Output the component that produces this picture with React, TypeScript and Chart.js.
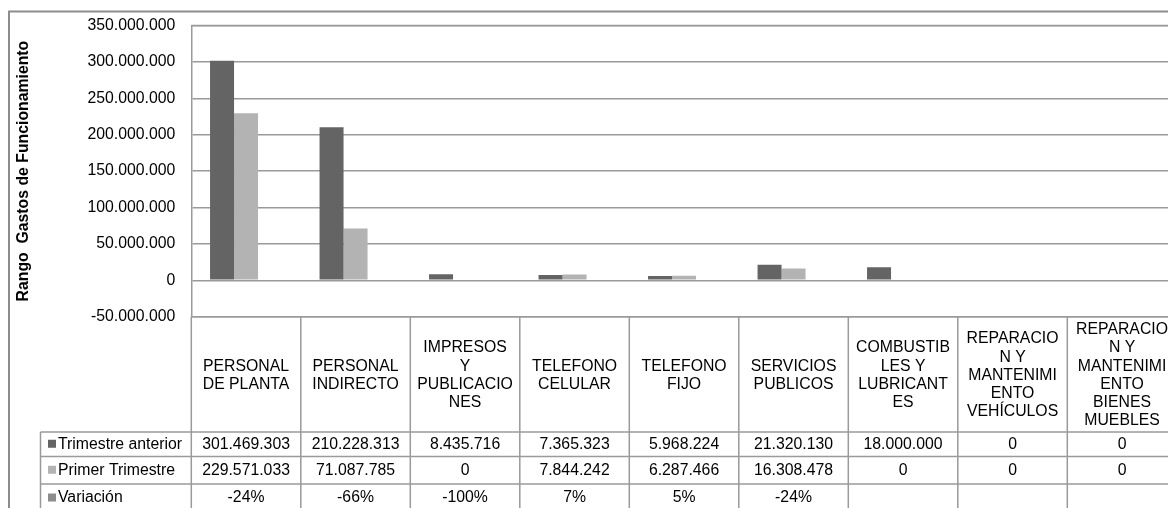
import React, { useEffect, useRef } from "react";
import { Chart, registerables } from "chart.js";

Chart.register(...registerables);

const categories: string[][] = [
  ["PERSONAL", "DE PLANTA"],
  ["PERSONAL", "INDIRECTO"],
  ["IMPRESOS", "Y", "PUBLICACIO", "NES"],
  ["TELEFONO", "CELULAR"],
  ["TELEFONO", "FIJO"],
  ["SERVICIOS", "PUBLICOS"],
  ["COMBUSTIB", "LES Y", "LUBRICANT", "ES"],
  ["REPARACIO", "N Y", "MANTENIMI", "ENTO", "VEHÍCULOS"],
  ["REPARACIO", "N Y", "MANTENIMI", "ENTO", "BIENES", "MUEBLES"],
];

const trimestreAnterior = [301469303, 210228313, 8435716, 7365323, 5968224, 21320130, 18000000, 0, 0];
const primerTrimestre = [229571033, 71087785, 0, 7844242, 6287466, 16308478, 0, 0, 0];
const variacion: (number | null)[] = [-0.24, -0.66, -1, 0.07, 0.05, -0.24, null, null, null];

const seriesLabels = ["Trimestre anterior", "Primer Trimestre", "Variación"];
const yTitle = "Rango  Gastos de Funcionamiento";
const yMin = -50000000;
const yMax = 350000000;
const yStep = 50000000;

const FONT = "'Liberation Sans', Arial, sans-serif";
const FS = 15.8;
const COLORS = ["#646464", "#b3b3b3", "#8c8c8c"];
const LINE = "#9a9a9a";

const CW = 1200;
const CH = 540;

function fmtNum(n: number): string {
  return Math.round(n)
    .toString()
    .replace(/\B(?=(\d{3})+(?!\d))/g, ".");
}
function fmtPct(v: number | null): string {
  if (v === null || v === undefined) return "";
  return Math.round(v * 100) + "%";
}

const tablePlugin = {
  id: "tablePlugin",
  beforeDraw(chart: any) {
    const ctx = chart.ctx;
    ctx.save();
    ctx.fillStyle = "#ffffff";
    ctx.fillRect(0, 0, chart.width, chart.height);
    ctx.strokeStyle = "#8c8c8c";
    ctx.lineWidth = 2;
    ctx.beginPath();
    ctx.moveTo(9, chart.height);
    ctx.lineTo(9, 11.5);
    ctx.lineTo(chart.width, 11.5);
    ctx.stroke();
    ctx.restore();
  },
  afterDraw(chart: any) {
    const ctx = chart.ctx;
    const area = chart.chartArea;
    const xs = chart.scales.x;
    const n = categories.length;
    const colW = xs.getPixelForValue(1) - xs.getPixelForValue(0);
    const x0 = xs.getPixelForValue(0) - colW / 2;
    const legendLeft = 40.5;
    const rowEdges = [432, 456.5, 484, 512];
    const bottom = chart.height;

    ctx.save();
    ctx.strokeStyle = LINE;
    ctx.lineWidth = 1.5;
    ctx.beginPath();
    ctx.moveTo(area.left, area.top);
    ctx.lineTo(area.right, area.top);
    ctx.lineTo(area.right, area.bottom);
    ctx.moveTo(area.left, area.bottom);
    ctx.lineTo(area.right, area.bottom);
    ctx.stroke();

    ctx.beginPath();
    for (let i = 0; i <= n; i++) {
      const x = x0 + i * colW;
      ctx.moveTo(x, area.bottom);
      ctx.lineTo(x, bottom);
    }
    ctx.moveTo(legendLeft, rowEdges[0]);
    ctx.lineTo(legendLeft, bottom);
    for (let r = 0; r < rowEdges.length - 1; r++) {
      ctx.moveTo(legendLeft, rowEdges[r]);
      ctx.lineTo(x0 + n * colW, rowEdges[r]);
    }
    ctx.stroke();

    ctx.fillStyle = "#000000";
    ctx.font = `${FS}px ${FONT}`;
    ctx.textBaseline = "middle";
    ctx.textAlign = "center";

    const lh = 18.2;
    const midY = (area.bottom + rowEdges[0]) / 2 + 1;
    categories.forEach((lines, i) => {
      const cx = xs.getPixelForValue(i);
      const startY = midY - ((lines.length - 1) * lh) / 2;
      lines.forEach((t, k) => ctx.fillText(t, cx, startY + k * lh));
    });

    const rows: string[][] = [
      trimestreAnterior.map(fmtNum),
      primerTrimestre.map(fmtNum),
      variacion.map(fmtPct),
    ];
    rows.forEach((vals, r) => {
      const cy = (rowEdges[r] + rowEdges[r + 1]) / 2;
      vals.forEach((t, i) => {
        ctx.fillText(t, xs.getPixelForValue(i), cy);
      });
    });

    ctx.textAlign = "left";
    seriesLabels.forEach((lab, r) => {
      const cy = (rowEdges[r] + rowEdges[r + 1]) / 2;
      ctx.fillStyle = COLORS[r];
      ctx.fillRect(48, cy - 4.5, 8, 8);
      ctx.fillStyle = "#000000";
      ctx.fillText(lab, 58, cy);
    });
    ctx.restore();
  },
};

export default function App() {
  const ref = useRef<HTMLCanvasElement | null>(null);
  useEffect(() => {
    if (!ref.current) return;
    const chart = new Chart(ref.current, {
      type: "bar",
      data: {
        labels: categories,
        datasets: [
          { label: seriesLabels[0], data: trimestreAnterior, backgroundColor: COLORS[0], borderWidth: 0 },
          { label: seriesLabels[1], data: primerTrimestre, backgroundColor: COLORS[1], borderWidth: 0 },
          // percentages are ~0 on this scale: Excel draws them but they are invisible
          { label: seriesLabels[2], data: variacion as any, backgroundColor: "rgba(0,0,0,0)", borderWidth: 0 },
        ],
      },
      options: {
        responsive: false,
        animation: false,
        devicePixelRatio: 1,
        datasets: { bar: { categoryPercentage: 0.6575, barPercentage: 1 } },
        layout: { padding: { left: 0, top: 21, right: CW - 1176.8, bottom: CH - 316.7 } },
        plugins: { legend: { display: false }, tooltip: { enabled: false } },
        scales: {
          x: { display: false, offset: true },
          y: {
            min: yMin,
            max: yMax,
            ticks: {
              stepSize: yStep,
              callback: (v: any) => fmtNum(Number(v)),
              font: { family: FONT, size: FS },
              color: "#000000",
              padding: 16,
            },
            grid: { color: LINE, lineWidth: 1.5, drawTicks: false },
            border: { color: LINE, width: 1.5 },
            title: {
              display: true,
              text: yTitle,
              font: { family: FONT, size: FS, weight: "bold" },
              color: "#000000",
              padding: { top: 14.5, bottom: 0 },
            },
            afterFit(s: any) {
              s.width = 191.3;
            },
          },
        },
      } as any,
      plugins: [tablePlugin],
    });
    return () => chart.destroy();
  }, []);
  return (
    <div
      style={{
        position: "fixed",
        left: 0,
        top: 0,
        width: 1168,
        height: 508,
        overflow: "hidden",
        background: "#fff",
      }}
    >
      <canvas ref={ref} width={CW} height={CH} style={{ display: "block" }} />
    </div>
  );
}
